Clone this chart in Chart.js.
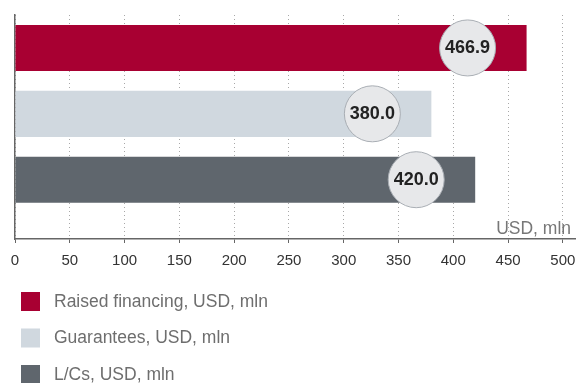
<!DOCTYPE html>
<html>
<head>
<meta charset="utf-8">
<title>Financing, guarantees and L/Cs</title>
<script src="https://cdn.jsdelivr.net/npm/chart.js@4/dist/chart.umd.min.js"></script>
<style>
  html, body { margin: 0; padding: 0; background: #fff; }
  #wrap { width: 576px; height: 383px; }
</style>
</head>
<body>
<div id="wrap"><canvas id="chart"></canvas></div>
<script>
// data
var categories = ["Raised financing, USD, mln", "Guarantees, USD, mln", "L/Cs, USD, mln"];
var amounts = [466.9, 380.0, 420.0];
var barColors = ["#a80032", "#d0d8df", "#5f666d"];
var xTicks = [0, 50, 100, 150, 200, 250, 300, 350, 400, 450, 500];
var unitLabel = "USD, mln";

var fontFamily = '"Helvetica Neue", Helvetica, "Liberation Sans", Arial, sans-serif';

// round value badge drawn a bit inside the end of each bar
var badgePlugin = {
    id: 'badges',
    afterDatasetsDraw: function (chart) {
        var ctx = chart.ctx;
        var meta = chart.getDatasetMeta(0);
        ctx.save();
        meta.data.forEach(function (bar, i) {
            var cx = bar.x - 59;
            var cy = bar.y;
            ctx.beginPath();
            ctx.arc(cx, cy, 28, 0, Math.PI * 2);
            ctx.fillStyle = "#e7e8ea";
            ctx.fill();
            ctx.lineWidth = 1;
            ctx.strokeStyle = "#a9aeb4";
            ctx.stroke();
            ctx.fillStyle = "#222";
            ctx.font = "bold 18px " + fontFamily;
            ctx.textAlign = "center";
            ctx.textBaseline = "middle";
            ctx.fillText(amounts[i].toFixed(1), cx, cy);
        });
        ctx.restore();
    },
    afterDraw: function (chart) {
        var ctx = chart.ctx;
        var area = chart.chartArea;
        ctx.save();
        // unit caption over the x axis
        ctx.fillStyle = "#777";
        ctx.font = "17.5px " + fontFamily;
        ctx.textAlign = "right";
        ctx.textBaseline = "alphabetic";
        ctx.fillText(unitLabel, area.right - 5, area.bottom - 5);

        // legend, one row per category
        var top = chart.height - 91;
        categories.forEach(function (name, i) {
            var y = top + i * 36.5;
            ctx.fillStyle = barColors[i];
            ctx.fillRect(21, y, 19, 19);
            ctx.fillStyle = "#6e6e6e";
            ctx.textAlign = "left";
            ctx.textBaseline = "middle";
            ctx.fillText(name, 54, y + 10);
        });
        ctx.restore();
    }
};

var ctx = document.getElementById('chart');
var chart = new Chart(ctx, {
    type: 'bar',
    data: {
        datasets: [{
            data: amounts.map(function (v, i) { return { x: v, y: i }; }),
            backgroundColor: barColors,
            borderWidth: 0,
            barPercentage: 0.7,
            categoryPercentage: 1
        }]
    },
    options: {
        indexAxis: 'y',
        responsive: true,
        maintainAspectRatio: false,
        animation: false,
        layout: { padding: { left: 15, right: 0, top: 15, bottom: 104 } },
        plugins: {
            legend: { display: false },
            tooltip: { enabled: false }
        },
        scales: {
            x: {
                type: 'linear',
                min: 0,
                max: 512,
                afterBuildTicks: function (scale) {
                    scale.ticks = xTicks.map(function (v) { return { value: v }; });
                },
                afterFit: function (scale) {
                    scale.paddingLeft = 0;
                    scale.paddingRight = 0;
                },
                ticks: {
                    color: "#333",
                    padding: 9,
                    maxRotation: 0,
                    font: { family: fontFamily, size: 15 }
                },
                grid: {
                    color: "#a8a8a8",
                    tickColor: "#666",
                    tickBorderDash: [],
                    tickLength: 4,
                    lineWidth: 1
                },
                border: { color: "#666", width: 1.5, dash: [1, 3] }
            },
            y: {
                type: 'linear',
                reverse: true,
                offset: false,
                bounds: 'data',
                min: -0.5,
                max: 2.9,
                afterBuildTicks: function (scale) {
                    scale.ticks = categories.map(function (c, i) { return { value: i }; });
                },
                afterFit: function (scale) { scale.width = 0; },
                ticks: { display: false },
                grid: { display: false, drawTicks: false, offset: false },
                border: { color: "#666", width: 1.5 }
            }
        }
    },
    plugins: [badgePlugin]
});
</script>
</body>
</html>
